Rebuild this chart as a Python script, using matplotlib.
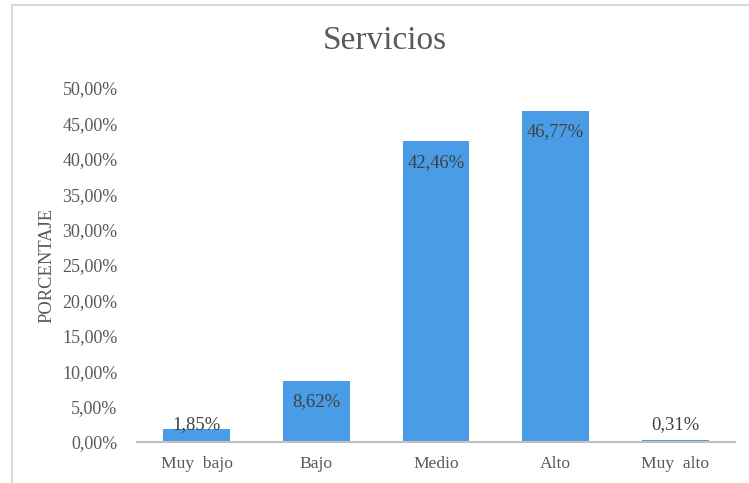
import numpy as np
import matplotlib.pyplot as plt
from matplotlib.patches import Rectangle
from matplotlib.ticker import MultipleLocator, FuncFormatter

# data ----------------------------------------------------
categorias = ['Muy  bajo', 'Bajo', 'Medio', 'Alto', 'Muy  alto']
porcentajes = [1.85, 8.62, 42.46, 46.77, 0.31]

# style ---------------------------------------------------
plt.rcParams['font.family'] = ['Liberation Serif', 'DejaVu Serif']
gris_texto = '#595959'
azul = '#4A9CE6'

fig = plt.figure(figsize=(7.49, 4.83), dpi=100)
ax = fig.add_axes([137 / 749, 41 / 483, 598 / 749, 354 / 483])

x = np.arange(len(categorias))
ax.bar(x, porcentajes, width=0.56, color=azul, zorder=2)

# value labels inside the top of each bar:
for xi, v in zip(x, porcentajes):
    y_txt = max(v - 2.97, 2.47)
    ax.text(xi, y_txt, '{:.2f}%'.format(v).replace('.', ','),
            ha='center', va='center', fontsize=13.4, color='#404040', zorder=3)

# axes ----------------------------------------------------
ax.set_xlim(-0.5, 4.5)
ax.set_ylim(0, 50)
ax.yaxis.set_major_locator(MultipleLocator(5))
ax.yaxis.set_major_formatter(FuncFormatter(lambda v, p: '{:.2f}%'.format(v).replace('.', ',')))
ax.set_xticks(x)
ax.set_xticklabels(categorias)
ax.tick_params('y', length=0, pad=14, labelsize=13, labelcolor=gris_texto)
ax.tick_params('x', length=0, pad=10, labelsize=12.6, labelcolor=gris_texto)

for side in ['top', 'right', 'left']:
    ax.spines[side].set_visible(False)
ax.spines['bottom'].set_color('#BFBFBF')
ax.spines['bottom'].set_linewidth(1.5)

ax.set_ylabel('PORCENTAJE', fontsize=13.3, color=gris_texto)
ax.yaxis.set_label_coords(-0.136, 0.5)

# title and chart border:
fig.text(385 / 749, 1 - 41 / 483, 'Servicios', ha='center', va='center',
         fontsize=24, color=gris_texto)
fig.patches.append(Rectangle((12 / 749, -0.2), 1.2, 0.2 + 478 / 483,
                             transform=fig.transFigure, fill=False,
                             edgecolor='#D9D9D9', linewidth=1.5))

# save:
plt.savefig('out.png', dpi=100)
